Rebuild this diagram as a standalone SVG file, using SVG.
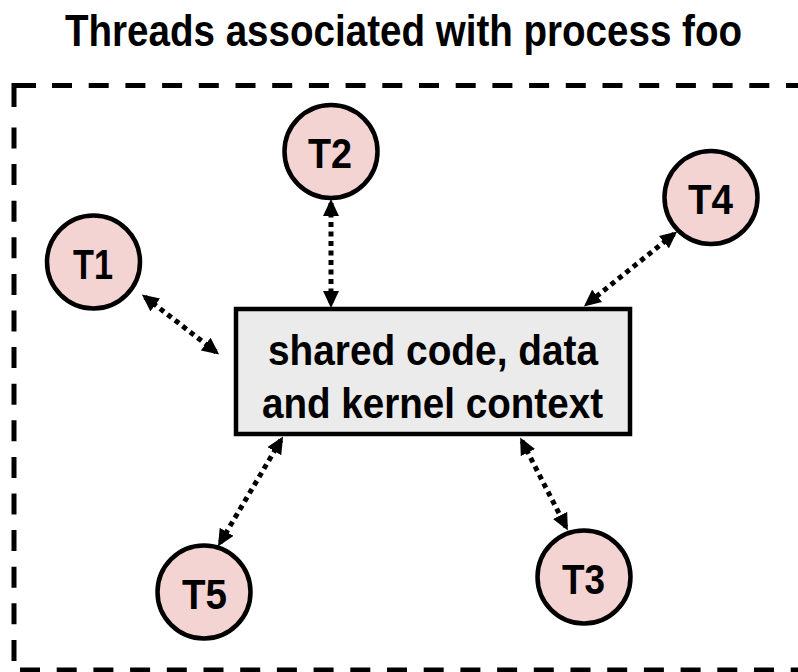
<svg xmlns="http://www.w3.org/2000/svg" width="798" height="672" viewBox="0 0 798 672">
<style>
text{font-family:"Liberation Sans",Arial,sans-serif;font-weight:bold;fill:#000}
.node circle{fill:#f4d3d3;stroke:#000;stroke-width:4.5}
.lbl{font-size:43px;text-anchor:middle}
.conn path{fill:none;stroke:#000;stroke-width:5;stroke-dasharray:5 4.5;marker-start:url(#ah);marker-end:url(#ah)}
.border{fill:none;stroke:#000;stroke-width:5}
</style>
<defs>
<marker id="ah" markerUnits="userSpaceOnUse" markerWidth="18" markerHeight="16" refX="13" refY="8" orient="auto-start-reverse" viewBox="0 0 18 16">
<path d="M0,0 L17,8 L0,16 z" fill="#000"/>
</marker>
</defs>
<rect width="798" height="672" fill="#fff"/>
<text id="title" x="403.5" y="46" font-size="44" text-anchor="middle" textLength="677" lengthAdjust="spacingAndGlyphs">Threads associated with process foo</text>
<g id="border">
<path class="border" d="M14,107 V85.5 H36"/>
<path class="border" d="M14,127.5 V672" stroke-dasharray="21 15.6"/>
<path class="border" d="M52,85.5 H798" stroke-dasharray="20 16.7"/>
<path class="border" d="M20,670 H798" stroke-dasharray="20 16.7"/>
</g>
<g class="conn" id="connectors">
<path d="M145,297 L216,352"/>
<path d="M331,203 L331,304"/>
<path d="M674,234 L587,304"/>
<path d="M281,440 L220,543"/>
<path d="M522,441 L566,527"/>
</g>
<g id="box">
<rect x="236" y="309" width="394" height="125" fill="#ebebeb" stroke="#000" stroke-width="4.5"/>
<text x="268" y="365" font-size="43" textLength="330" lengthAdjust="spacingAndGlyphs">shared code, data</text>
<text x="262" y="418" font-size="43" textLength="341" lengthAdjust="spacingAndGlyphs">and kernel context</text>
</g>
<g class="node" id="T1"><circle cx="93.5" cy="262" r="46.5"/><text class="lbl" x="93" y="279" textLength="40" lengthAdjust="spacingAndGlyphs">T1</text></g>
<g class="node" id="T2"><circle cx="331" cy="151.5" r="46.5"/><text class="lbl" x="330" y="168" textLength="44" lengthAdjust="spacingAndGlyphs">T2</text></g>
<g class="node" id="T3"><circle cx="584" cy="577" r="46.5"/><text class="lbl" x="583.5" y="594" textLength="43" lengthAdjust="spacingAndGlyphs">T3</text></g>
<g class="node" id="T4"><circle cx="711" cy="197.5" r="46.5"/><text class="lbl" x="710.5" y="214" textLength="45" lengthAdjust="spacingAndGlyphs">T4</text></g>
<g class="node" id="T5"><circle cx="204" cy="592" r="46.5"/><text class="lbl" x="204.5" y="609" textLength="45" lengthAdjust="spacingAndGlyphs">T5</text></g>
</svg>
